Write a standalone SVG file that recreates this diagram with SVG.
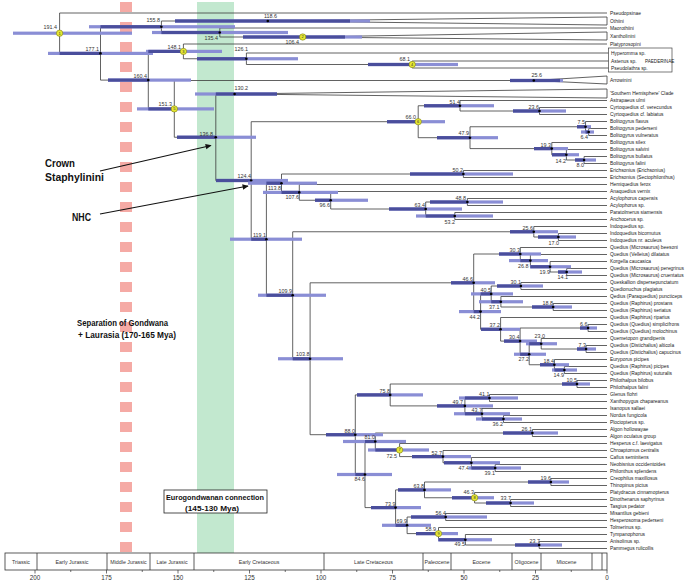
<svg xmlns="http://www.w3.org/2000/svg" width="685" height="581" viewBox="0 0 685 581">
<style>
.br{fill:none;stroke:#3a3a3a;stroke-width:0.8}
.bl{fill:#8a8ed5}
.bd{fill:#4a4e9c}
.dot{fill:#000}
.yc{fill:#e6e832;stroke:#6d6d10;stroke-width:0.5}
.yn{font-family:"Liberation Sans",Arial,sans-serif;font-size:4px;fill:#333;text-anchor:middle}
.age{font-family:"Liberation Sans",Arial,sans-serif;font-size:5.4px;fill:#333;text-anchor:end}
.tip{font-family:"Liberation Sans",Arial,sans-serif;font-size:4.9px;fill:#222}
.ann{font-family:"Liberation Sans",Arial,sans-serif;font-weight:bold;fill:#111}
.per{font-family:"Liberation Sans",Arial,sans-serif;font-size:5.3px;fill:#333;text-anchor:middle}
.tk{font-family:"Liberation Sans",Arial,sans-serif;font-size:6.3px;fill:#333;text-anchor:middle}
.box{fill:none;stroke:#444;stroke-width:0.7}
</style>
<defs>
<marker id="ah" viewBox="0 0 10 10" refX="9" refY="5" markerWidth="8" markerHeight="6" orient="auto" markerUnits="userSpaceOnUse"><path d="M0,0.5L10,5L0,9.5Z" fill="#111"/></marker>
</defs>
<rect width="685" height="581" fill="#fff"/>
<g id="bands">
<rect x="197" y="2" width="37" height="551" fill="#c2e8cf"/>
<line x1="126" y1="2" x2="126" y2="553" stroke="#f5aaa5" stroke-width="12" stroke-dasharray="10 10"/>
</g>
<g id="connectors">
<path class="br" d="M59.6,13V53.4M59.6,13H607M59.6,53.4H100.5M100.5,26.75V80.1M100.5,26.75H161.4M100.5,80.1H148.3M161.4,21V32.5M161.4,21H267.8M161.4,32.5H219.8M219.8,28V37M219.8,28H607M219.8,37H302.7M148.3,51.4V108.9M148.3,51.4H183.4M148.3,108.9H174.3M183.4,44V58.75M183.4,44H607M183.4,58.75H246.4M246.4,53V64.5M246.4,53H608.5M246.4,64.5H412.2M412.2,61V68M412.2,61H608.5M412.2,68H608.5M174.3,80.5V137.25M174.3,80.5H533.8M174.3,137.25H215.8M215.8,94V180.5M215.8,94H234.6M215.8,180.5H251.2M251.2,121.7V239.2M251.2,121.7H418.2M251.2,239.2H266.4"/>
<path class="br" d="M267.8,21L607,17V25ZM302.7,37L607,32V40ZM533.8,80.5L607,76V84ZM234.6,94L607,89V98Z"/>
<path class="br" d="M418.2,105.75V137.7M418.2,105.75H460M418.2,137.7H470M460,100.5V111M460,100.5H607M460,111H539.5M539.5,107.5V114.5M539.5,107.5H607M539.5,114.5H607M470,126.75V148.6M470,126.75H585.55M470,148.6H551.8M585.55,121.5V132M585.55,121.5H607M585.55,132H588.7M588.7,128.5V135.5M588.7,128.5H607M588.7,135.5H607M551.8,142.5V154.75M551.8,142.5H607M551.8,154.75H566.4M566.4,149.5V160M566.4,149.5H607M566.4,160H584.1M584.1,156.5V163.5M584.1,156.5H607M584.1,163.5H607"/>
<path class="br" d="M266.4,183.2V295.25M266.4,183.2H281.5M266.4,295.25H292.7M281.5,174V192.4M281.5,174H463.4M281.5,192.4H299.3M463.4,170.5V177.5M463.4,170.5H607M463.4,177.5H607M299.3,184.5V200.25M299.3,184.5H607M299.3,200.25H330.7M330.7,191.5V209M330.7,191.5H607M330.7,209H425.7M425.7,202V216M425.7,202H467.4M425.7,216H454.8M467.4,198.5V205.5M467.4,198.5H607M467.4,205.5H607M454.8,212.5V219.5M454.8,212.5H607M454.8,219.5H607M292.7,231.75V358.75M292.7,231.75H533.8M292.7,358.75H310.1M533.8,226.5V237M533.8,226.5H607M533.8,237H558.4M558.4,233.5V240.5M558.4,233.5H607M558.4,240.5H607"/>
<path class="br" d="M310.1,282.8V434.7M310.1,282.8H473.7M310.1,434.7H355.3M473.7,254V311.6M473.7,254H520.3M473.7,311.6H480.6M520.3,247.5V260.6M520.3,247.5H607M520.3,260.6H530.4M530.4,254.5V266.75M530.4,254.5H607M530.4,266.75H550.1M550.1,261.5V272M550.1,261.5H607M550.1,272H566.7M566.7,268.5V275.5M566.7,268.5H607M566.7,275.5H607M480.6,293.9V329.3M480.6,293.9H491.2M480.6,329.3H500.6M491.2,286V301.75M491.2,286H520.9M491.2,301.75H500.9M520.9,282.5V289.5M520.9,282.5H607M520.9,289.5H607M500.9,296.5V307M500.9,296.5H607M500.9,307H553.2M553.2,303.5V310.5M553.2,303.5H607M553.2,310.5H607M500.6,317.5V341.1M500.6,317.5H607M500.6,341.1H520.1M520.1,328V354.25M520.1,328H588.1M520.1,354.25H529.2M588.1,324.5V331.5M588.1,324.5H607M588.1,331.5H607M529.2,343.75V364.75M529.2,343.75H541.2M529.2,364.75H554.4M541.2,338.5V349M541.2,338.5H607M541.2,349H586.1M586.1,345.5V352.5M586.1,345.5H607M586.1,352.5H607M554.4,359.5V370M554.4,359.5H607M554.4,370H564.4M564.4,366.5V373.5M564.4,366.5H607M564.4,373.5H607"/>
<path class="br" d="M355.3,394.9V474.5M355.3,394.9H390.2M355.3,474.5H365M390.2,384V405.9M390.2,384H577M390.2,405.9H464.9M577,380.5V387.5M577,380.5H607M577,387.5H607M464.9,398V413.75M464.9,398H489.5M464.9,413.75H482M489.5,394.5V401.5M489.5,394.5H607M489.5,401.5H607M482,408.5V419M482,408.5H607M482,419H503.5M503.5,415.5V422.5M503.5,415.5H607M503.5,422.5H607M365,441.5V507.6M365,441.5H375.3M365,507.6H395.6M375.3,433V450M375.3,433H532.4M375.3,450H399.6M532.4,429.5V436.5M532.4,429.5H607M532.4,436.5H607M399.6,443.5V456.6M399.6,443.5H607M399.6,456.6H443M443,450.5V462.75M443,450.5H607M443,462.75H471.4M471.4,457.5V468M471.4,457.5H607M471.4,468H495.2M495.2,464.5V471.5M495.2,464.5H607M495.2,471.5H607M395.6,489.9V525.3M395.6,489.9H424.5M395.6,525.3H407.1M424.5,482V497.75M424.5,482H550.9M424.5,497.75H474.6M550.9,478.5V485.5M550.9,478.5H607M550.9,485.5H607M474.6,492.5V503M474.6,492.5H607M474.6,503H510.6M510.6,499.5V506.5M510.6,499.5H607M510.6,506.5H607M407.1,517V533.6M407.1,517H445.7M407.1,533.6H438.5M445.7,513.5V520.5M445.7,513.5H607M445.7,520.5H607M438.5,527.5V539.75M438.5,527.5H607M438.5,539.75H465.4M465.4,534.5V545M465.4,534.5H607M465.4,545H539.2M539.2,541.5V548.5M539.2,541.5H607M539.2,548.5H607"/>
</g>
<g id="nodes">
<g id="n191_4"><rect class="bl" x="13" y="31.6" width="119" height="3.2"/><circle class="yc" cx="59.6" cy="33.2" r="3.2"/><text class="yn" x="59.6" y="34.6">1</text><text class="age" x="57" y="29">191.4</text></g>
<g id="n177_1"><rect class="bl" x="48" y="51.8" width="105" height="3.2"/><rect class="bd" x="59.6" y="51.8" width="40.9" height="3.2"/><circle class="dot" cx="100.5" cy="53.4" r="1.3"/><text class="age" x="99" y="51">177.1</text></g>
<g id="n155_8"><rect class="bl" x="89" y="25.15" width="146" height="3.2"/><rect class="bd" x="100.5" y="25.15" width="60.9" height="3.2"/><circle class="dot" cx="161.4" cy="26.75" r="1.3"/><text class="age" x="160" y="21.5">155.8</text></g>
<g id="n118_6"><rect class="bl" x="175" y="19.4" width="195" height="3.2"/><rect class="bd" x="175" y="19.4" width="175" height="3.2"/><circle class="dot" cx="267.8" cy="21" r="1.3"/><text class="age" x="277" y="17.5">118.6</text></g>
<g id="n135_4"><rect class="bl" x="152" y="30.9" width="136" height="3.2"/><rect class="bd" x="161.4" y="30.9" width="58.4" height="3.2"/><circle class="dot" cx="219.8" cy="32.5" r="1.3"/><text class="age" x="218" y="40">135.4</text></g>
<g id="n106_4"><rect class="bl" x="243" y="35.4" width="119" height="3.2"/><rect class="bd" x="243" y="35.4" width="102" height="3.2"/><circle class="yc" cx="302.7" cy="37" r="3.2"/><text class="yn" x="302.7" y="38.4">2</text><text class="age" x="299" y="43.5">106.4</text></g>
<g id="n160_4"><rect class="bl" x="108" y="78.5" width="83" height="3.2"/><rect class="bd" x="108" y="78.5" width="40.3" height="3.2"/><circle class="dot" cx="148.3" cy="80.1" r="1.3"/><text class="age" x="147" y="77.5">160.4</text></g>
<g id="n148_1"><rect class="bl" x="146" y="49.8" width="76" height="3.2"/><rect class="bd" x="148.3" y="49.8" width="35.1" height="3.2"/><circle class="yc" cx="183.4" cy="51.4" r="3.2"/><text class="yn" x="183.4" y="52.8">3</text><text class="age" x="181" y="48.5">148.1</text></g>
<g id="n126_1"><rect class="bl" x="197" y="57.15" width="101" height="3.2"/><rect class="bd" x="197" y="57.15" width="49.4" height="3.2"/><circle class="dot" cx="246.4" cy="58.75" r="1.3"/><text class="age" x="248" y="51">126.1</text></g>
<g id="n68_1"><rect class="bl" x="368" y="62.9" width="90" height="3.2"/><rect class="bd" x="368" y="62.9" width="44.2" height="3.2"/><circle class="yc" cx="412.2" cy="64.5" r="3.2"/><text class="yn" x="412.2" y="65.9">4</text><text class="age" x="410" y="60.5">68.1</text></g>
<g id="n151_3"><rect class="bl" x="137" y="107.3" width="77" height="3.2"/><rect class="bd" x="148.3" y="107.3" width="26" height="3.2"/><circle class="yc" cx="174.3" cy="108.9" r="3.2"/><text class="yn" x="174.3" y="110.3">5</text><text class="age" x="172" y="106">151.3</text></g>
<g id="n25_6a"><rect class="bl" x="510" y="78.9" width="53" height="3.2"/><rect class="bd" x="510" y="78.9" width="50" height="3.2"/><circle class="dot" cx="533.8" cy="80.5" r="1.3"/><text class="age" x="542" y="77">25.6</text></g>
<g id="n136_8"><rect class="bl" x="177" y="135.65" width="79" height="3.2"/><rect class="bd" x="177" y="135.65" width="38.8" height="3.2"/><circle class="dot" cx="215.8" cy="137.25" r="1.3"/><text class="age" x="213" y="136">136.8</text></g>
<g id="n130_2"><rect class="bl" x="195" y="92.4" width="82" height="3.2"/><rect class="bd" x="215.8" y="92.4" width="61.2" height="3.2"/><circle class="dot" cx="234.6" cy="94" r="1.3"/><text class="age" x="248" y="90">130.2</text></g>
<g id="n124_4"><rect class="bl" x="216" y="178.9" width="72" height="3.2"/><rect class="bd" x="216" y="178.9" width="35.2" height="3.2"/><circle class="dot" cx="251.2" cy="180.5" r="1.3"/><text class="age" x="251" y="178">124.4</text></g>
<g id="n66_0"><rect class="bl" x="387" y="120.1" width="58" height="3.2"/><rect class="bd" x="387" y="120.1" width="31.2" height="3.2"/><circle class="yc" cx="418.2" cy="121.7" r="3.2"/><text class="yn" x="418.2" y="123.1">6</text><text class="age" x="416" y="119">66.0</text></g>
<g id="n51_4"><rect class="bl" x="424" y="104.15" width="70" height="3.2"/><rect class="bd" x="424" y="104.15" width="36" height="3.2"/><circle class="dot" cx="460" cy="105.75" r="1.3"/><text class="age" x="460" y="103.5">51.4</text></g>
<g id="n23_6"><rect class="bl" x="513" y="109.4" width="53" height="3.2"/><rect class="bd" x="513" y="109.4" width="26.5" height="3.2"/><circle class="dot" cx="539.5" cy="111" r="1.3"/><text class="age" x="539" y="108.5">23.6</text></g>
<g id="n47_9"><rect class="bl" x="437" y="136.1" width="61" height="3.2"/><rect class="bd" x="437" y="136.1" width="33" height="3.2"/><circle class="dot" cx="470" cy="137.7" r="1.3"/><text class="age" x="469" y="135">47.9</text></g>
<g id="n7_5"><rect class="bl" x="577" y="125.15" width="14" height="3.2"/><rect class="bd" x="577" y="125.15" width="8.55" height="3.2"/><circle class="dot" cx="585.55" cy="126.75" r="1.3"/><text class="age" x="585" y="124">7.5</text></g>
<g id="n6_4"><rect class="bl" x="581" y="130.4" width="13" height="3.2"/><rect class="bd" x="585.55" y="130.4" width="3.15" height="3.2"/><circle class="dot" cx="588.7" cy="132" r="1.3"/><text class="age" x="588" y="139">6.4</text></g>
<g id="n19_3"><rect class="bl" x="534" y="147" width="34" height="3.2"/><rect class="bd" x="534" y="147" width="17.8" height="3.2"/><circle class="dot" cx="551.8" cy="148.6" r="1.3"/><text class="age" x="551" y="146.5">19.3</text></g>
<g id="n14_2"><rect class="bl" x="552" y="153.15" width="27" height="3.2"/><rect class="bd" x="552" y="153.15" width="14.4" height="3.2"/><circle class="dot" cx="566.4" cy="154.75" r="1.3"/><text class="age" x="566" y="162.5">14.2</text></g>
<g id="n8_0"><rect class="bl" x="575" y="158.4" width="21" height="3.2"/><rect class="bd" x="575" y="158.4" width="9.1" height="3.2"/><circle class="dot" cx="584.1" cy="160" r="1.3"/><text class="age" x="584" y="167">8.0</text></g>
<g id="n50_2"><rect class="bl" x="410" y="172.4" width="103" height="3.2"/><rect class="bd" x="410" y="172.4" width="53.4" height="3.2"/><circle class="dot" cx="463.4" cy="174" r="1.3"/><text class="age" x="463" y="171.5">50.2</text></g>
<g id="n113_8"><rect class="bl" x="248" y="181.6" width="69" height="3.2"/><rect class="bd" x="266.4" y="181.6" width="15.1" height="3.2"/><circle class="dot" cx="281.5" cy="183.2" r="1.3"/><text class="age" x="281" y="190">113.8</text></g>
<g id="n107_6"><rect class="bl" x="263" y="190.8" width="75" height="3.2"/><rect class="bd" x="281.5" y="190.8" width="17.8" height="3.2"/><circle class="dot" cx="299.3" cy="192.4" r="1.3"/><text class="age" x="299" y="198.5">107.6</text></g>
<g id="n96_6"><rect class="bl" x="315" y="198.65" width="53" height="3.2"/><rect class="bd" x="315" y="198.65" width="15.7" height="3.2"/><circle class="dot" cx="330.7" cy="200.25" r="1.3"/><text class="age" x="330" y="207">96.6</text></g>
<g id="n63_4"><rect class="bl" x="389" y="207.4" width="73" height="3.2"/><rect class="bd" x="389" y="207.4" width="36.7" height="3.2"/><circle class="dot" cx="425.7" cy="209" r="1.3"/><text class="age" x="425" y="206.5">63.4</text></g>
<g id="n48_8"><rect class="bl" x="430" y="200.4" width="73" height="3.2"/><rect class="bd" x="430" y="200.4" width="37.4" height="3.2"/><circle class="dot" cx="467.4" cy="202" r="1.3"/><text class="age" x="466" y="199.5">48.8</text></g>
<g id="n53_2"><rect class="bl" x="416" y="214.4" width="77" height="3.2"/><rect class="bd" x="425.7" y="214.4" width="29.1" height="3.2"/><circle class="dot" cx="454.8" cy="216" r="1.3"/><text class="age" x="455" y="223.5">53.2</text></g>
<g id="n119_1"><rect class="bl" x="230" y="237.6" width="72" height="3.2"/><rect class="bd" x="251.2" y="237.6" width="15.2" height="3.2"/><circle class="dot" cx="266.4" cy="239.2" r="1.3"/><text class="age" x="266" y="236.5">119.1</text></g>
<g id="n109_9"><rect class="bl" x="258" y="293.65" width="68" height="3.2"/><rect class="bd" x="266.4" y="293.65" width="26.3" height="3.2"/><circle class="dot" cx="292.7" cy="295.25" r="1.3"/><text class="age" x="292" y="292.5">109.9</text></g>
<g id="n25_6b"><rect class="bl" x="510" y="230.15" width="48" height="3.2"/><rect class="bd" x="510" y="230.15" width="23.8" height="3.2"/><circle class="dot" cx="533.8" cy="231.75" r="1.3"/><text class="age" x="533" y="229.5">25.6</text></g>
<g id="n17_0"><rect class="bl" x="538" y="235.4" width="38" height="3.2"/><rect class="bd" x="538" y="235.4" width="20.4" height="3.2"/><circle class="dot" cx="558.4" cy="237" r="1.3"/><text class="age" x="559" y="244.5">17.0</text></g>
<g id="n103_8"><rect class="bl" x="278" y="357.15" width="65" height="3.2"/><rect class="bd" x="292.7" y="357.15" width="17.4" height="3.2"/><circle class="dot" cx="310.1" cy="358.75" r="1.3"/><text class="age" x="309.5" y="356">103.8</text></g>
<g id="n46_6"><rect class="bl" x="451" y="281.2" width="44" height="3.2"/><rect class="bd" x="451" y="281.2" width="22.7" height="3.2"/><circle class="dot" cx="473.7" cy="282.8" r="1.3"/><text class="age" x="473" y="280.5">46.6</text></g>
<g id="n30_3"><rect class="bl" x="499" y="252.4" width="42" height="3.2"/><rect class="bd" x="499" y="252.4" width="21.3" height="3.2"/><circle class="dot" cx="520.3" cy="254" r="1.3"/><text class="age" x="520" y="251.5">30.3</text></g>
<g id="n26_8"><rect class="bl" x="509" y="259" width="39" height="3.2"/><rect class="bd" x="520.3" y="259" width="10.1" height="3.2"/><circle class="dot" cx="530.4" cy="260.6" r="1.3"/><text class="age" x="528.5" y="267.5">26.8</text></g>
<g id="n19_9"><rect class="bl" x="530" y="265.15" width="41" height="3.2"/><rect class="bd" x="530.4" y="265.15" width="19.7" height="3.2"/><circle class="dot" cx="550.1" cy="266.75" r="1.3"/><text class="age" x="550" y="273.5">19.9</text></g>
<g id="n14_1"><rect class="bl" x="558" y="270.4" width="24" height="3.2"/><rect class="bd" x="558" y="270.4" width="8.7" height="3.2"/><circle class="dot" cx="566.7" cy="272" r="1.3"/><text class="age" x="568" y="279">14.1</text></g>
<g id="n44_2"><rect class="bl" x="459" y="310" width="42" height="3.2"/><rect class="bd" x="473.7" y="310" width="6.9" height="3.2"/><circle class="dot" cx="480.6" cy="311.6" r="1.3"/><text class="age" x="480" y="318.5">44.2</text></g>
<g id="n40_5"><rect class="bl" x="471" y="292.3" width="42" height="3.2"/><rect class="bd" x="480.6" y="292.3" width="10.6" height="3.2"/><circle class="dot" cx="491.2" cy="293.9" r="1.3"/><text class="age" x="491" y="291.5">40.5</text></g>
<g id="n30_1"><rect class="bl" x="497" y="284.4" width="46" height="3.2"/><rect class="bd" x="497" y="284.4" width="23.9" height="3.2"/><circle class="dot" cx="520.9" cy="286" r="1.3"/><text class="age" x="521" y="283.5">30.1</text></g>
<g id="n37_1"><rect class="bl" x="479" y="300.15" width="44" height="3.2"/><rect class="bd" x="491.2" y="300.15" width="9.7" height="3.2"/><circle class="dot" cx="500.9" cy="301.75" r="1.3"/><text class="age" x="499.5" y="308.5">37.1</text></g>
<g id="n18_8"><rect class="bl" x="532" y="305.4" width="40" height="3.2"/><rect class="bd" x="532" y="305.4" width="21.2" height="3.2"/><circle class="dot" cx="553.2" cy="307" r="1.3"/><text class="age" x="553" y="304.5">18.8</text></g>
<g id="n37_2"><rect class="bl" x="481" y="327.7" width="39" height="3.2"/><rect class="bd" x="481" y="327.7" width="19.6" height="3.2"/><circle class="dot" cx="500.6" cy="329.3" r="1.3"/><text class="age" x="500" y="326.5">37.2</text></g>
<g id="n30_4"><rect class="bl" x="504" y="339.5" width="33" height="3.2"/><rect class="bd" x="504" y="339.5" width="16.1" height="3.2"/><circle class="dot" cx="520.1" cy="341.1" r="1.3"/><text class="age" x="519.5" y="338.5">30.4</text></g>
<g id="n6_6"><rect class="bl" x="580" y="326.4" width="17" height="3.2"/><rect class="bd" x="580" y="326.4" width="8.1" height="3.2"/><circle class="dot" cx="588.1" cy="328" r="1.3"/><text class="age" x="587.5" y="325.5">6.6</text></g>
<g id="n27_2"><rect class="bl" x="514" y="352.65" width="32" height="3.2"/><rect class="bd" x="520.1" y="352.65" width="9.1" height="3.2"/><circle class="dot" cx="529.2" cy="354.25" r="1.3"/><text class="age" x="529" y="361">27.2</text></g>
<g id="n23_0"><rect class="bl" x="526" y="342.15" width="31" height="3.2"/><rect class="bd" x="529.2" y="342.15" width="12" height="3.2"/><circle class="dot" cx="541.2" cy="343.75" r="1.3"/><text class="age" x="545" y="338">23.0</text></g>
<g id="n7_3"><rect class="bl" x="577" y="347.4" width="19" height="3.2"/><rect class="bd" x="577" y="347.4" width="9.1" height="3.2"/><circle class="dot" cx="586.1" cy="349" r="1.3"/><text class="age" x="586" y="346.5">7.3</text></g>
<g id="n18_4"><rect class="bl" x="540" y="363.15" width="29" height="3.2"/><rect class="bd" x="540" y="363.15" width="14.4" height="3.2"/><circle class="dot" cx="554.4" cy="364.75" r="1.3"/><text class="age" x="554" y="362.5">18.4</text></g>
<g id="n14_9"><rect class="bl" x="552" y="368.4" width="25" height="3.2"/><rect class="bd" x="554.4" y="368.4" width="10" height="3.2"/><circle class="dot" cx="564.4" cy="370" r="1.3"/><text class="age" x="564" y="377">14.9</text></g>
<g id="n88_0"><rect class="bl" x="326" y="433.1" width="57" height="3.2"/><rect class="bd" x="326" y="433.1" width="29.3" height="3.2"/><circle class="dot" cx="355.3" cy="434.7" r="1.3"/><text class="age" x="355" y="432.5">88.0</text></g>
<g id="n75_8"><rect class="bl" x="357" y="393.3" width="66" height="3.2"/><rect class="bd" x="357" y="393.3" width="33.2" height="3.2"/><circle class="dot" cx="390.2" cy="394.9" r="1.3"/><text class="age" x="390" y="392.5">75.8</text></g>
<g id="n10_5"><rect class="bl" x="562" y="382.4" width="28" height="3.2"/><rect class="bd" x="562" y="382.4" width="15" height="3.2"/><circle class="dot" cx="577" cy="384" r="1.3"/><text class="age" x="577" y="381.5">10.5</text></g>
<g id="n49_7"><rect class="bl" x="437" y="404.3" width="56" height="3.2"/><rect class="bd" x="437" y="404.3" width="27.9" height="3.2"/><circle class="dot" cx="464.9" cy="405.9" r="1.3"/><text class="age" x="463" y="403.5">49.7</text></g>
<g id="n41_1"><rect class="bl" x="459" y="396.4" width="59" height="3.2"/><rect class="bd" x="464.9" y="396.4" width="24.6" height="3.2"/><circle class="dot" cx="489.5" cy="398" r="1.3"/><text class="age" x="489.5" y="395.5">41.1</text></g>
<g id="n43_7"><rect class="bl" x="454" y="412.15" width="56" height="3.2"/><rect class="bd" x="464.9" y="412.15" width="17.1" height="3.2"/><circle class="dot" cx="482" cy="413.75" r="1.3"/><text class="age" x="482" y="411.5">43.7</text></g>
<g id="n36_2"><rect class="bl" x="476" y="417.4" width="46" height="3.2"/><rect class="bd" x="482" y="417.4" width="21.5" height="3.2"/><circle class="dot" cx="503.5" cy="419" r="1.3"/><text class="age" x="503" y="426">36.2</text></g>
<g id="n84_6"><rect class="bl" x="337" y="472.9" width="55" height="3.2"/><rect class="bd" x="355.3" y="472.9" width="9.7" height="3.2"/><circle class="dot" cx="365" cy="474.5" r="1.3"/><text class="age" x="365" y="481">84.6</text></g>
<g id="n81_0"><rect class="bl" x="343" y="439.9" width="63" height="3.2"/><rect class="bd" x="365" y="439.9" width="10.3" height="3.2"/><circle class="dot" cx="375.3" cy="441.5" r="1.3"/><text class="age" x="375" y="439">81.0</text></g>
<g id="n26_1"><rect class="bl" x="503" y="431.4" width="55" height="3.2"/><rect class="bd" x="503" y="431.4" width="29.4" height="3.2"/><circle class="dot" cx="532.4" cy="433" r="1.3"/><text class="age" x="532" y="430.5">26.1</text></g>
<g id="n72_5"><rect class="bl" x="368" y="448.4" width="61" height="3.2"/><rect class="bd" x="375.3" y="448.4" width="24.3" height="3.2"/><circle class="yc" cx="399.6" cy="450" r="3.2"/><text class="yn" x="399.6" y="451.4">7</text><text class="age" x="397" y="457.5">72.5</text></g>
<g id="n52_7"><rect class="bl" x="412" y="455" width="59" height="3.2"/><rect class="bd" x="412" y="455" width="31" height="3.2"/><circle class="dot" cx="443" cy="456.6" r="1.3"/><text class="age" x="442" y="454.5">52.7</text></g>
<g id="n47_4"><rect class="bl" x="444" y="461.15" width="56" height="3.2"/><rect class="bd" x="444" y="461.15" width="27.4" height="3.2"/><circle class="dot" cx="471.4" cy="462.75" r="1.3"/><text class="age" x="469" y="469.5">47.4</text></g>
<g id="n39_1"><rect class="bl" x="469" y="466.4" width="52" height="3.2"/><rect class="bd" x="471.4" y="466.4" width="23.8" height="3.2"/><circle class="dot" cx="495.2" cy="468" r="1.3"/><text class="age" x="495" y="475">39.1</text></g>
<g id="n73_9"><rect class="bl" x="371" y="506" width="50" height="3.2"/><rect class="bd" x="371" y="506" width="24.6" height="3.2"/><circle class="dot" cx="395.6" cy="507.6" r="1.3"/><text class="age" x="395.5" y="505.5">73.9</text></g>
<g id="n63_8"><rect class="bl" x="398" y="488.3" width="53" height="3.2"/><rect class="bd" x="398" y="488.3" width="26.5" height="3.2"/><circle class="dot" cx="424.5" cy="489.9" r="1.3"/><text class="age" x="424" y="487.5">63.8</text></g>
<g id="n19_6"><rect class="bl" x="528" y="480.4" width="41" height="3.2"/><rect class="bd" x="528" y="480.4" width="22.9" height="3.2"/><circle class="dot" cx="550.9" cy="482" r="1.3"/><text class="age" x="551" y="479.5">19.6</text></g>
<g id="n46_3"><rect class="bl" x="452" y="496.15" width="42" height="3.2"/><rect class="bd" x="452" y="496.15" width="22.6" height="3.2"/><circle class="yc" cx="474.6" cy="497.75" r="3.2"/><text class="yn" x="474.6" y="499.15">8</text><text class="age" x="474" y="493.5">46.3</text></g>
<g id="n33_7"><rect class="bl" x="486" y="501.4" width="48" height="3.2"/><rect class="bd" x="486" y="501.4" width="24.6" height="3.2"/><circle class="dot" cx="510.6" cy="503" r="1.3"/><text class="age" x="511" y="500">33.7</text></g>
<g id="n69_9"><rect class="bl" x="382" y="523.7" width="49" height="3.2"/><rect class="bd" x="395.6" y="523.7" width="11.5" height="3.2"/><circle class="dot" cx="407.1" cy="525.3" r="1.3"/><text class="age" x="407" y="523">69.9</text></g>
<g id="n56_4"><rect class="bl" x="411" y="515.4" width="76" height="3.2"/><rect class="bd" x="411" y="515.4" width="34.7" height="3.2"/><circle class="dot" cx="445.7" cy="517" r="1.3"/><text class="age" x="446" y="514.5">56.4</text></g>
<g id="n58_9"><rect class="bl" x="416" y="532" width="42" height="3.2"/><rect class="bd" x="416" y="532" width="22.5" height="3.2"/><circle class="yc" cx="438.5" cy="533.6" r="3.2"/><text class="yn" x="438.5" y="535">9</text><text class="age" x="436" y="530.5">58.9</text></g>
<g id="n49_5"><rect class="bl" x="438" y="538.15" width="54" height="3.2"/><rect class="bd" x="438.5" y="538.15" width="26.9" height="3.2"/><circle class="dot" cx="465.4" cy="539.75" r="1.3"/><text class="age" x="465" y="546">49.5</text></g>
<g id="n23_7"><rect class="bl" x="515" y="543.4" width="47" height="3.2"/><rect class="bd" x="515" y="543.4" width="24.2" height="3.2"/><circle class="dot" cx="539.2" cy="545" r="1.3"/><text class="age" x="540" y="542.5">23.7</text></g>
</g>
<g id="tips">
<g id="t-pseudopsinae"><text class="tip" x="610" y="14.7">Pseudopsinae</text></g>
<g id="t-othiini"><text class="tip" x="610" y="22.7">Othiini</text></g>
<g id="t-maorothiini"><text class="tip" x="610" y="29.7">Maorothiini</text></g>
<g id="t-xantholinini"><text class="tip" x="610" y="37.7">Xantholinini</text></g>
<g id="t-platyprosopini"><text class="tip" x="610" y="45.7">Platyprosopini</text></g>
<g id="t-paederinae"><rect class="box" x="608.5" y="48" width="63.5" height="24"/><text class="tip" x="611" y="54.7">Hyperomma sp.</text><text class="tip" x="611" y="62.7">Astenus sp.</text><text class="tip" x="611" y="69.7">Pseudolathra sp.</text><text class="tip" x="645" y="62.5" style="font-size:4.6px">PAEDERINAE</text></g>
<g id="t-arrowinini"><text class="tip" x="610" y="81.7">Arrowinini</text></g>
<g id="t-shc"><text class="tip" x="610" y="95.2">'Southern Hemisphere' Clade</text></g>
<g id="t00"><text class="tip" x="610" y="102.2">Astrapaeus ulmi</text></g>
<g id="t01"><text class="tip" x="610" y="109.2">Cyrtoquedius cf. verecundus</text></g>
<g id="t02"><text class="tip" x="610" y="116.2">Cyrtoquedius cf. labiatus</text></g>
<g id="t03"><text class="tip" x="610" y="123.2">Bolitogyrus flavus</text></g>
<g id="t04"><text class="tip" x="610" y="130.2">Bolitogyrus pederseni</text></g>
<g id="t05"><text class="tip" x="610" y="137.2">Bolitogyrus vulneratus</text></g>
<g id="t06"><text class="tip" x="610" y="144.2">Bolitogyrus silex</text></g>
<g id="t07"><text class="tip" x="610" y="151.2">Bolitogyrus salvini</text></g>
<g id="t08"><text class="tip" x="610" y="158.2">Bolitogyrus bullatus</text></g>
<g id="t09"><text class="tip" x="610" y="165.2">Bolitogyrus falini</text></g>
<g id="t10"><text class="tip" x="610" y="172.2">Erichsonius (Erichsonius)</text></g>
<g id="t11"><text class="tip" x="610" y="179.2">Erichsonius (Sectophilonthus)</text></g>
<g id="t12"><text class="tip" x="610" y="186.2">Hemiquedius ferox</text></g>
<g id="t13"><text class="tip" x="610" y="193.2">Anaquedius vernix</text></g>
<g id="t14"><text class="tip" x="610" y="200.2">Acylophorus capensis</text></g>
<g id="t15"><text class="tip" x="610" y="207.2">Acylophorus sp.</text></g>
<g id="t16"><text class="tip" x="610" y="214.2">Paratolmerus siamensis</text></g>
<g id="t17"><text class="tip" x="610" y="221.2">Anchocerus sp.</text></g>
<g id="t18"><text class="tip" x="610" y="228.2">Indoquedius sp.</text></g>
<g id="t19"><text class="tip" x="610" y="235.2">Indoquedius bicornutus</text></g>
<g id="t20"><text class="tip" x="610" y="242.2">Indoquedius nr. aculeus</text></g>
<g id="t21"><text class="tip" x="610" y="249.2">Quedius (Microsaurus) beesoni</text></g>
<g id="t22"><text class="tip" x="610" y="256.2">Quedius (Velleius) dilatatus</text></g>
<g id="t23"><text class="tip" x="610" y="263.2">Korgella caucasica</text></g>
<g id="t24"><text class="tip" x="610" y="270.2">Quedius (Microsaurus) peregrinus</text></g>
<g id="t25"><text class="tip" x="610" y="277.2">Quedius (Microsaurus) cruentatus</text></g>
<g id="t26"><text class="tip" x="610" y="284.2">Queskallion dispersepunctatum</text></g>
<g id="t27"><text class="tip" x="610" y="291.2">Quedionuchus plagiatus</text></g>
<g id="t28"><text class="tip" x="610" y="298.2">Qedius (Paraquedius) puncticeps</text></g>
<g id="t29"><text class="tip" x="610" y="305.2">Quedius (Raphirus) prostans</text></g>
<g id="t30"><text class="tip" x="610" y="312.2">Quedius (Raphirus) seriatus</text></g>
<g id="t31"><text class="tip" x="610" y="319.2">Quedius (Raphirus) riparius</text></g>
<g id="t32"><text class="tip" x="610" y="326.2">Quedius (Quedius) simplicifrons</text></g>
<g id="t33"><text class="tip" x="610" y="333.2">Quedius (Quedius) molochinus</text></g>
<g id="t34"><text class="tip" x="610" y="340.2">Quemetopon grandipenis</text></g>
<g id="t35"><text class="tip" x="610" y="347.2">Quedius (Distichalius) alticola</text></g>
<g id="t36"><text class="tip" x="610" y="354.2">Quedius (Distichalius) capucinus</text></g>
<g id="t37"><text class="tip" x="610" y="361.2">Euryporus picipes</text></g>
<g id="t38"><text class="tip" x="610" y="368.2">Quedius (Raphirus) picipes</text></g>
<g id="t39"><text class="tip" x="610" y="375.2">Quedius (Raphirus) suturalis</text></g>
<g id="t40"><text class="tip" x="610" y="382.2">Philothalpus bilobus</text></g>
<g id="t41"><text class="tip" x="610" y="389.2">Philothalpus falini</text></g>
<g id="t42"><text class="tip" x="610" y="396.2">Glenus flohri</text></g>
<g id="t43"><text class="tip" x="610" y="403.2">Xanthopygus chapareanus</text></g>
<g id="t44"><text class="tip" x="610" y="410.2">Isanopus sallaei</text></g>
<g id="t45"><text class="tip" x="610" y="417.2">Nordus fungicola</text></g>
<g id="t46"><text class="tip" x="610" y="424.2">Plociopterus sp.</text></g>
<g id="t47"><text class="tip" x="610" y="431.2">Algon hollowayae</text></g>
<g id="t48"><text class="tip" x="610" y="438.2">Algon oculatus group</text></g>
<g id="t49"><text class="tip" x="610" y="445.2">Hesperus c.f. laevigatus</text></g>
<g id="t50"><text class="tip" x="610" y="452.2">Chroaptomus centralis</text></g>
<g id="t51"><text class="tip" x="610" y="459.2">Cafius seminitens</text></g>
<g id="t52"><text class="tip" x="610" y="466.2">Neobisnius occidentoides</text></g>
<g id="t53"><text class="tip" x="610" y="473.2">Philonthus splendens</text></g>
<g id="t54"><text class="tip" x="610" y="480.2">Creophilus maxillosus</text></g>
<g id="t55"><text class="tip" x="610" y="487.2">Thinopinus pictus</text></g>
<g id="t56"><text class="tip" x="610" y="494.2">Platydracus cinnamopterus</text></g>
<g id="t57"><text class="tip" x="610" y="501.2">Dinothenarus saphyrinus</text></g>
<g id="t58"><text class="tip" x="610" y="508.2">Tasgius pedator</text></g>
<g id="t59"><text class="tip" x="610" y="515.2">Misantlius gebieni</text></g>
<g id="t60"><text class="tip" x="610" y="522.2">Hesperosoma pederseni</text></g>
<g id="t61"><text class="tip" x="610" y="529.2">Tolmerinus sp.</text></g>
<g id="t62"><text class="tip" x="610" y="536.2">Tympanophorus</text></g>
<g id="t63"><text class="tip" x="610" y="543.2">Anisolinus sp.</text></g>
<g id="t64"><text class="tip" x="610" y="550.2">Pammegus rulicollis</text></g>
</g>
<g id="annotations">
<text class="ann" x="45" y="167" font-size="11" textLength="30" lengthAdjust="spacingAndGlyphs">Crown</text>
<text class="ann" x="45" y="181" font-size="11" textLength="59" lengthAdjust="spacingAndGlyphs">Staphylinini</text>
<line x1="100" y1="171" x2="211" y2="145.5" stroke="#111" stroke-width="1.1" marker-end="url(#ah)"/>
<text class="ann" x="72" y="221" font-size="11" textLength="19" lengthAdjust="spacingAndGlyphs">NHC</text>
<line x1="100" y1="214" x2="248" y2="186" stroke="#111" stroke-width="1.1" marker-end="url(#ah)"/>
<text class="ann" x="77" y="326" font-size="8.5" textLength="91" lengthAdjust="spacingAndGlyphs">Separation of Gondwana</text>
<text class="ann" x="78" y="337.5" font-size="8.5" textLength="98" lengthAdjust="spacingAndGlyphs">+ Laurasia (170-165 Mya)</text>
<g id="eurogondwanan">
<rect x="164" y="490" width="103" height="23" fill="#fff" stroke="#222" stroke-width="0.8"/>
<text class="ann" x="166" y="500" font-size="8" textLength="98" lengthAdjust="spacingAndGlyphs">Eurogondwanan connection</text>
<text class="ann" x="185" y="510.5" font-size="8" textLength="54" lengthAdjust="spacingAndGlyphs">(145-130 Mya)</text>
</g>
</g>
<g id="timescale">
<rect x="5" y="553" width="602" height="17" fill="#fff" stroke="#333" stroke-width="0.8"/>
<path d="M37,553V570M107,553V570M150,553V570M194,553V570M324,553V570M423,553V570M451,553V570M512,553V570M541,553V570M592,553V570M602,553V570" stroke="#333" stroke-width="0.8"/>
<path d="M35,570V573.5M106.5,570V573.5M178,570V573.5M249.5,570V573.5M321,570V573.5M392.5,570V573.5M464,570V573.5M535.5,570V573.5M607,570V573.5M70.75,570V572M142.25,570V572M213.75,570V572M285.25,570V572M356.75,570V572M428.25,570V572M499.75,570V572M571.25,570V572" stroke="#333" stroke-width="0.7"/>
<text class="per" x="21" y="563.5">Triassic</text>
<text class="per" x="72" y="563.5">Early Jurassic</text>
<text class="per" x="128.5" y="563.5">Middle Jurassic</text>
<text class="per" x="172" y="563.5">Late Jurassic</text>
<text class="per" x="259" y="563.5">Early Cretaceous</text>
<text class="per" x="373.5" y="563.5">Late Cretaceous</text>
<text class="per" x="437" y="563.5">Paleocene</text>
<text class="per" x="481.5" y="563.5">Eocene</text>
<text class="per" x="526.5" y="563.5">Oligocene</text>
<text class="per" x="566.5" y="563.5">Miocene</text>
<text class="tk" x="35" y="579.5">200</text>
<text class="tk" x="106.5" y="579.5">175</text>
<text class="tk" x="178" y="579.5">150</text>
<text class="tk" x="249.5" y="579.5">125</text>
<text class="tk" x="321" y="579.5">100</text>
<text class="tk" x="392.5" y="579.5">75</text>
<text class="tk" x="464" y="579.5">50</text>
<text class="tk" x="535.5" y="579.5">25</text>
<text class="tk" x="607" y="579.5">0</text>
</g>
</svg>
